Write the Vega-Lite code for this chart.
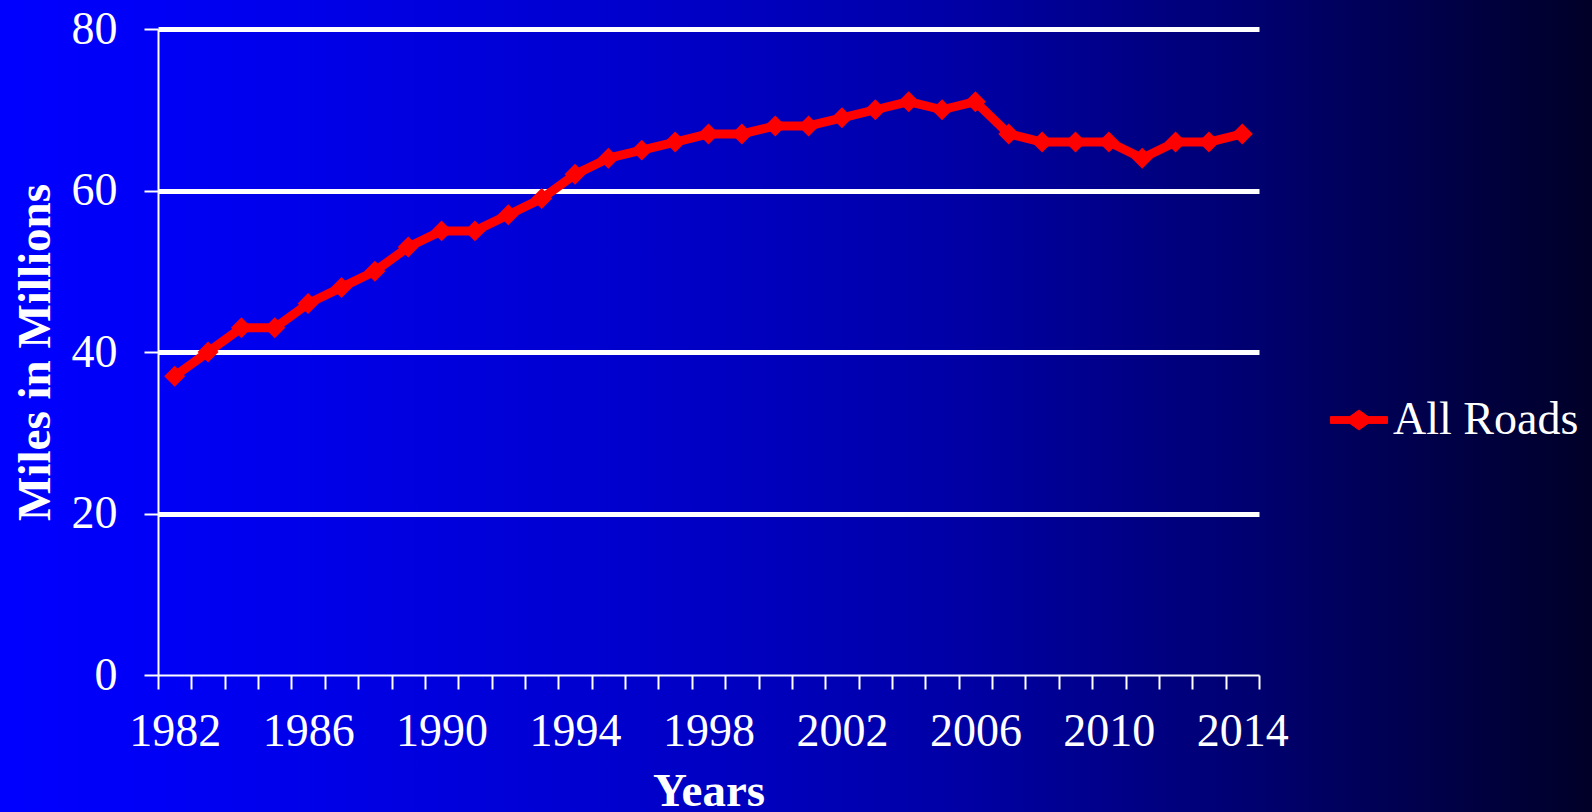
{
  "$schema": "https://vega.github.io/schema/vega-lite/v6.json",
  "autosize": {"type": "none"},
  "width": 1592,
  "height": 812,
  "padding": 0,
  "background": "#000080",
  "view": {
    "stroke": null,
    "fill": {
      "gradient": "linear", "x1": 0, "y1": 0, "x2": 1, "y2": 0,
      "stops": [
        {"offset": 0, "color": "#0000FF"},
        {"offset": 0.1, "color": "#0000F6"},
        {"offset": 0.4, "color": "#0000CC"},
        {"offset": 0.6, "color": "#0000A6"},
        {"offset": 0.8, "color": "#00006C"},
        {"offset": 1, "color": "#000028"}
      ]
    }
  },
  "config": {
    "font": "Liberation Serif"
  },
  "data": {
    "values": [
      {"year": 1982, "miles": 37, "series": "All Roads"},
      {"year": 1983, "miles": 40, "series": "All Roads"},
      {"year": 1984, "miles": 43, "series": "All Roads"},
      {"year": 1985, "miles": 43, "series": "All Roads"},
      {"year": 1986, "miles": 46, "series": "All Roads"},
      {"year": 1987, "miles": 48, "series": "All Roads"},
      {"year": 1988, "miles": 50, "series": "All Roads"},
      {"year": 1989, "miles": 53, "series": "All Roads"},
      {"year": 1990, "miles": 55, "series": "All Roads"},
      {"year": 1991, "miles": 55, "series": "All Roads"},
      {"year": 1992, "miles": 57, "series": "All Roads"},
      {"year": 1993, "miles": 59, "series": "All Roads"},
      {"year": 1994, "miles": 62, "series": "All Roads"},
      {"year": 1995, "miles": 64, "series": "All Roads"},
      {"year": 1996, "miles": 65, "series": "All Roads"},
      {"year": 1997, "miles": 66, "series": "All Roads"},
      {"year": 1998, "miles": 67, "series": "All Roads"},
      {"year": 1999, "miles": 67, "series": "All Roads"},
      {"year": 2000, "miles": 68, "series": "All Roads"},
      {"year": 2001, "miles": 68, "series": "All Roads"},
      {"year": 2002, "miles": 69, "series": "All Roads"},
      {"year": 2003, "miles": 70, "series": "All Roads"},
      {"year": 2004, "miles": 71, "series": "All Roads"},
      {"year": 2005, "miles": 70, "series": "All Roads"},
      {"year": 2006, "miles": 71, "series": "All Roads"},
      {"year": 2007, "miles": 67, "series": "All Roads"},
      {"year": 2008, "miles": 66, "series": "All Roads"},
      {"year": 2009, "miles": 66, "series": "All Roads"},
      {"year": 2010, "miles": 66, "series": "All Roads"},
      {"year": 2011, "miles": 64, "series": "All Roads"},
      {"year": 2012, "miles": 66, "series": "All Roads"},
      {"year": 2013, "miles": 66, "series": "All Roads"},
      {"year": 2014, "miles": 67, "series": "All Roads"}
    ]
  },
  "encoding": {
    "x": {
      "field": "year",
      "type": "ordinal",
      "bandPosition": 0.5,
      "scale": {"type": "band", "paddingInner": 0, "paddingOuter": 0, "range": [158, 1259]},
      "axis": {
        "offset": -137,
        "title": "Years",
        "titleFont": "Liberation Serif",
        "titleFontSize": 47,
        "titleFontWeight": "bold",
        "titleColor": "#FFFFFF",
        "titlePadding": 14,
        "labelAngle": 0,
        "labelFont": "Liberation Serif",
        "labelFontSize": 46,
        "labelColor": "#FFFFFF",
        "labelPadding": 20,
        "labelExpr": "(datum.value - 1982) % 4 == 0 ? datum.label : ''",
        "labelOverlap": false,
        "tickBand": "extent",
        "tickSize": 14,
        "tickWidth": 2,
        "tickColor": "#FFFFFF",
        "domainColor": "#FFFFFF",
        "domainWidth": 2,
        "grid": false
      }
    },
    "y": {
      "field": "miles",
      "type": "quantitative",
      "scale": {"domain": [0, 80], "range": [675, 29]},
      "axis": {
        "offset": -158,
        "title": "Miles in Millions",
        "titleFont": "Liberation Serif",
        "titleFontSize": 47,
        "titleFontWeight": "bold",
        "titleColor": "#FFFFFF",
        "titlePadding": 12,
        "values": [0, 20, 40, 60, 80],
        "labelFont": "Liberation Serif",
        "labelFontSize": 46,
        "labelColor": "#FFFFFF",
        "labelPadding": 27,
        "tickSize": 14,
        "tickWidth": 2,
        "tickColor": "#FFFFFF",
        "domainColor": "#FFFFFF",
        "domainWidth": 2,
        "grid": true,
        "gridColor": "#FFFFFF",
        "gridOpacity": 1,
        "gridWidth": {"condition": {"test": "datum.value === 0", "value": 0}, "value": 5}
      }
    },
    "color": {
      "field": "series",
      "type": "nominal",
      "scale": {"range": ["#FF0000"]},
      "legend": {
        "title": null,
        "orient": "none",
        "legendX": 1330,
        "legendY": 391,
        "padding": 0,
        "labelFont": "Liberation Serif",
        "labelFontSize": 46,
        "labelColor": "#FFFFFF",
        "labelOffset": 5,
        "labelLimit": 400,
        "symbolType": "M-1,-0.12 L-0.32,-0.12 L0,-0.35 L0.32,-0.12 L1,-0.12 L1,0.12 L0.32,0.12 L0,0.35 L-0.32,0.12 L-1,0.12 Z",
        "symbolSize": 3249,
        "symbolFillColor": "#FF0000",
        "symbolStrokeColor": "#FF0000",
        "symbolStrokeWidth": 1
      }
    }
  },
  "layer": [
    {"mark": {"type": "line", "strokeWidth": 9, "strokeJoin": "round"}},
    {"mark": {"type": "point", "shape": "diamond", "filled": true, "size": 440, "opacity": 1}}
  ]
}
